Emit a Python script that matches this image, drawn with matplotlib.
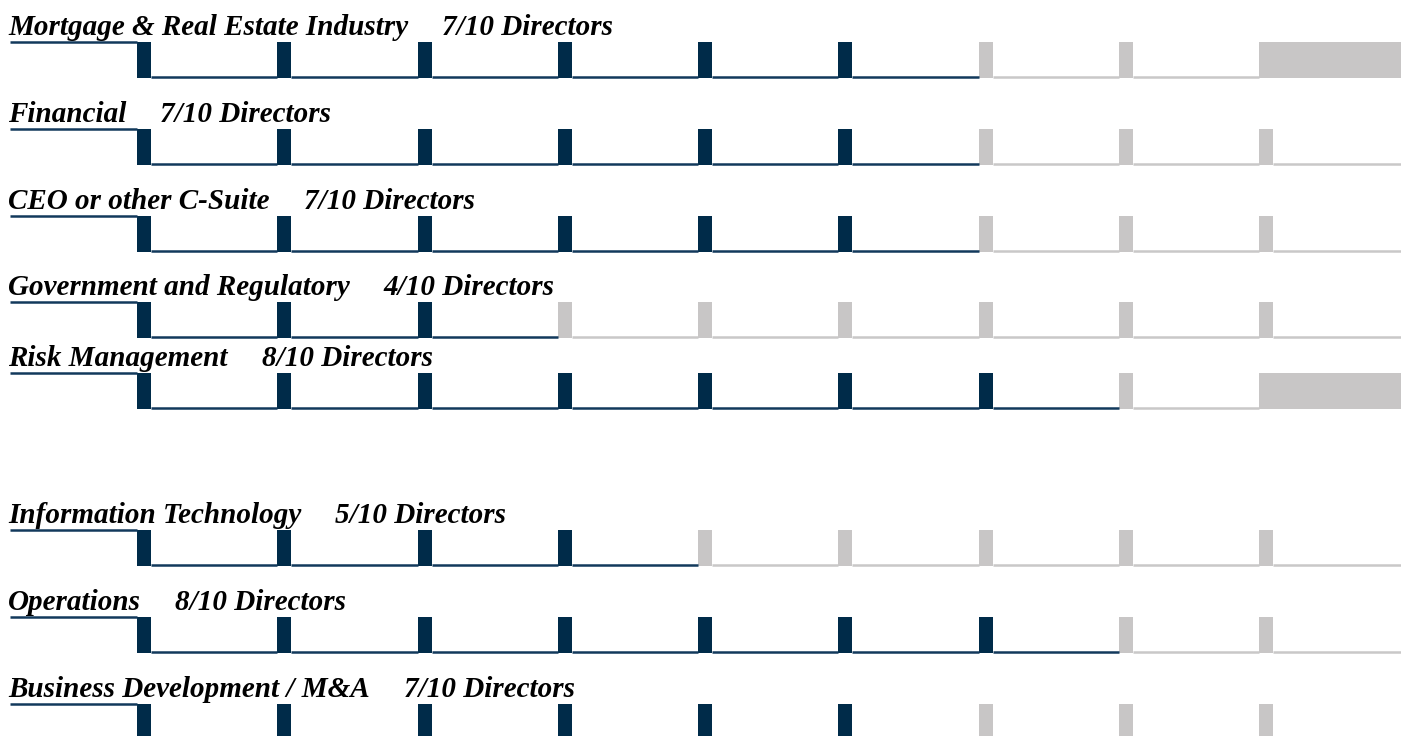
import matplotlib
matplotlib.use("Agg")
import matplotlib.pyplot as plt

categories = ["Mortgage & Real Estate Industry", "Financial", "CEO or other C-Suite",
              "Government and Regulatory", "Risk Management", "Information Technology",
              "Operations", "Business Development / M&A"]
counts = [7, 7, 7, 4, 8, 5, 8, 7]
total = 10
count_labels = [f"{c}/{total} Directors" for c in counts]

# layout (pixels)
row_tops = [42, 129, 216, 302, 373, 530, 617, 704]
wide_end = [True, False, False, False, True, False, False, False]

DARK = "#002B49"
DARK_LINE = "#12395C"
GRAY = "#C8C6C6"
GRAY_LINE = "#C9C8C8"

W, H = 1401, 736
fig = plt.figure(figsize=(W / 100, H / 100), dpi=100)
ax = fig.add_axes([0, 0, 1, 1])
ax.set_xlim(0, W)
ax.set_ylim(H, 0)
ax.axis("off")

x0, step, mw, mh = 137, 140.25, 14, 36
font = dict(family="Liberation Serif", weight="bold", style="italic", size=21)

fig.canvas.draw()
renderer = fig.canvas.get_renderer()

for r, (cat, n, lab) in enumerate(zip(categories, counts, count_labels)):
    top = row_tops[r]
    t = ax.text(8, top - 7, cat, ha="left", va="baseline", color="black", **font)
    bb = t.get_window_extent(renderer=renderer)
    xend = bb.x1  # pixels == data units in x
    ax.text(xend + 34, top - 7, lab, ha="left", va="baseline", color="black", **font)
    # title underline (first unit)
    ax.plot([10, x0], [top, top], color=DARK_LINE, lw=1.8, solid_capstyle="butt")
    xs = [x0 + i * step for i in range(total - 1)]
    cols = [DARK if i + 1 < n else GRAY for i in range(total - 1)]
    ax.bar(xs, mh, width=mw, bottom=top, align="edge", color=cols, linewidth=0)
    for i, x in enumerate(xs):
        lc = DARK_LINE if i + 1 < n else GRAY_LINE
        xe = x + step if i < total - 2 else W
        if i == total - 2 and wide_end[r]:
            ax.bar([x], mh, width=W - x, bottom=top, align="edge", color=GRAY, linewidth=0)
        else:
            ax.plot([x + mw, xe], [top + mh - 1, top + mh - 1], color=lc, lw=1.8,
                    solid_capstyle="butt")

fig.savefig("out.png", dpi=100)
